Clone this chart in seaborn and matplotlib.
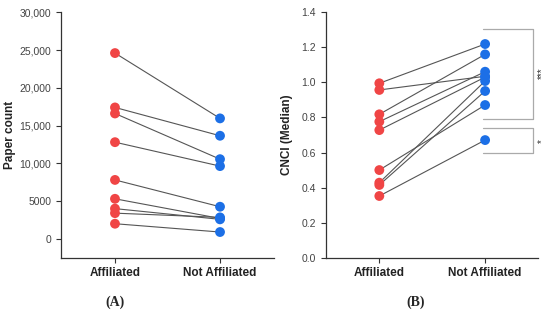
import matplotlib
matplotlib.use("Agg")
import matplotlib.pyplot as plt
import seaborn as sns
import pandas as pd
import numpy as np

sns.set_style("ticks")
plt.rcParams['font.family'] = ['Liberation Sans', 'DejaVu Sans']

groups = ["Affiliated", "Not Affiliated"]

# Panel A: paper counts (paired)
paper_affiliated = [24600, 17400, 16600, 12800, 7800, 5300, 4000, 3400, 2000]
paper_not_affiliated = [15950, 13650, 10550, 9630, 4250, 2700, 2580, 2840, 900]

# Panel B: CNCI (median) (paired)
cnci_affiliated = [0.995, 0.957, 0.818, 0.776, 0.728, 0.500, 0.428, 0.415, 0.352]
cnci_not_affiliated = [1.219, 1.035, 1.160, 1.061, 1.030, 0.871, 1.008, 0.951, 0.671]

a_ticks = [0, 5000, 10000, 15000, 20000, 25000, 30000]
a_ticklabels = ["0", "5000", "10,000", "15,000", "20,000", "25,000", "30,000"]
b_ticks = [0.0, 0.2, 0.4, 0.6, 0.8, 1.0, 1.2, 1.4]

RED = "#F04545"
BLUE = "#1C6FE6"
LINE = "#555555"
SPINE = "#333333"
BRACKET = "#AAAAAA"

fig = plt.figure(figsize=(5.5, 3.21), dpi=100)
axA = fig.add_axes([61/550, (321-257.7)/321, (274-61)/550, (257.7-12.3)/321])
axB = fig.add_axes([325.7/550, (321-257.7)/321, (538-325.7)/550, (257.7-12.3)/321])


def make_df(a, b):
    n = len(a)
    return pd.DataFrame({
        "pair": list(range(n)) * 2,
        "group": [groups[0]] * n + [groups[1]] * n,
        "x": [0] * n + [1] * n,
        "value": list(a) + list(b),
    })


def draw(ax, a, b):
    df = make_df(a, b)
    sns.lineplot(data=df, x="x", y="value", units="pair", estimator=None,
                 color=LINE, lw=0.8, ax=ax, zorder=1, legend=False)
    sns.scatterplot(data=df, x="x", y="value", hue="group",
                    palette={groups[0]: RED, groups[1]: BLUE},
                    s=50, edgecolor="none", ax=ax, zorder=3, legend=False)
    ax.set_xticks([0, 1])
    ax.set_xticklabels(groups, fontweight="bold", fontsize=8.5, color="#222222")
    ax.set_xlabel("")
    for s in ["top", "right"]:
        ax.spines[s].set_visible(False)
    for s in ["left", "bottom"]:
        ax.spines[s].set_color(SPINE)
        ax.spines[s].set_linewidth(0.9)
    ax.tick_params(axis="both", colors=SPINE, width=0.8, length=3.5)
    ax.tick_params(axis="y", labelsize=7.5, labelcolor="#444444")
    ax.tick_params(axis="x", labelcolor="#222222", pad=3)


draw(axA, paper_affiliated, paper_not_affiliated)
axA.set_xlim(-0.514, 1.514)
axA.set_ylim(-2500, 30000)
axA.set_yticks(a_ticks)
axA.set_yticklabels(a_ticklabels)
axA.set_ylabel("Paper count", fontweight="bold", fontsize=8.5, color="#222222")
axA.yaxis.set_label_coords(-0.213, 0.5)

draw(axB, cnci_affiliated, cnci_not_affiliated)
axB.set_xlim(-0.507, 1.50)
axB.set_ylim(0, 1.4)
axB.set_yticks(b_ticks)
axB.set_yticklabels([f"{t:.1f}" for t in b_ticks])
axB.set_ylabel("CNCI (Median)", fontweight="bold", fontsize=8.5, color="#222222")
axB.yaxis.set_label_coords(-0.154, 0.5)

# significance brackets
def bracket(ax, x0, x1, y0, y1, label, ty):
    ax.plot([x0, x1, x1, x0], [y1, y1, y0, y0], color=BRACKET, lw=0.9,
            clip_on=False, zorder=0)
    ax.text(x1 + 0.08, ty, label, rotation=90, ha="center", va="center",
            fontsize=7, color="#333333", clip_on=False)

bracket(axB, 0.978, 1.457, 0.790, 1.303, "***", 1.05)
bracket(axB, 0.978, 1.457, 0.599, 0.738, "*", 0.667)

fig.text(115/550, 1 - 302/321, "(A)", family=["Liberation Serif", "DejaVu Serif"],
         fontweight="bold", fontsize=10, ha="center", va="center")
fig.text(416/550, 1 - 302/321, "(B)", family=["Liberation Serif", "DejaVu Serif"],
         fontweight="bold", fontsize=10, ha="center", va="center")

fig.savefig("out.png", dpi=100)
